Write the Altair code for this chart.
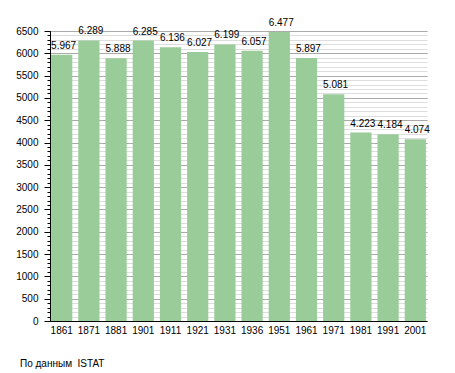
import altair as alt
import pandas as pd

years = ["1861", "1871", "1881", "1901", "1911", "1921", "1931", "1936",
         "1951", "1961", "1971", "1981", "1991", "2001"]
population = [5967, 6289, 5888, 6285, 6136, 6027, 6199, 6057,
              6477, 5897, 5081, 4223, 4184, 4074]
labels = ["5.967", "6.289", "5.888", "6.285", "6.136", "6.027", "6.199", "6.057",
          "6.477", "5.897", "5.081", "4.223", "4.184", "4.074"]
major_ticks = list(range(0, 6501, 500))
minor_ticks = list(range(0, 6501, 100))
source_note = "По данным\u00a0 ISTAT"

df = pd.DataFrame({"year": years, "pop": population, "label": labels})

FONT = "Liberation Sans"
W, H = 377, 290

xscale = alt.Scale(paddingInner=0.22, paddingOuter=0.04)
yscale = alt.Scale(domain=[0, 6500], nice=False)
x_axis = alt.Axis(labelAngle=0, ticks=False, domainColor="black",
                  labelFont=FONT, labelFontSize=10, labelColor="black",
                  labelPadding=4)

minor = alt.Chart(df).mark_bar(opacity=0).encode(
    x=alt.X("year:N", sort=years, scale=xscale, title=None, axis=x_axis),
    y=alt.Y("pop:Q", scale=yscale, title=None,
            axis=alt.Axis(values=minor_ticks, labels=False, tickSize=3,
                          tickColor="black", domain=False, grid=True,
                          gridColor="#dddddd", orient="left")),
)

bars = alt.Chart(df).mark_bar(color="#99cc99").encode(
    x=alt.X("year:N", sort=years, scale=xscale, title=None, axis=x_axis),
    y=alt.Y("pop:Q", scale=yscale, title=None,
            axis=alt.Axis(values=major_ticks, format="d", tickSize=6,
                          tickColor="black", domainColor="black", grid=True,
                          gridColor="#aaaaaa", labelFont=FONT, labelFontSize=10,
                          labelColor="black", labelPadding=6, orient="left")),
)

text = alt.Chart(df).mark_text(align="left", baseline="bottom", dy=-4,
                               font=FONT, fontSize=10, color="black").encode(
    x=alt.X("year:N", sort=years, scale=xscale, bandPosition=0, title=None,
            axis=x_axis),
    y=alt.Y("pop:Q", scale=yscale, axis=None),
    text="label:N",
)

note = alt.Chart(pd.DataFrame({"t": [source_note]})).mark_text(
    align="left", baseline="alphabetic", font=FONT, fontSize=10, color="black"
).encode(x=alt.value(-30), y=alt.value(336), text="t:N")

chart = alt.layer(minor, bars, text, note).resolve_axis(y="independent").properties(
    width=W, height=H,
    autosize=alt.AutoSizeParams(type="none"),
    padding={"left": 42, "top": 23, "right": 20, "bottom": 50},
).configure_view(stroke=None).configure_axis(gridWidth=1)

chart.save("out.html", embed_options={"renderer": "svg", "actions": False})
